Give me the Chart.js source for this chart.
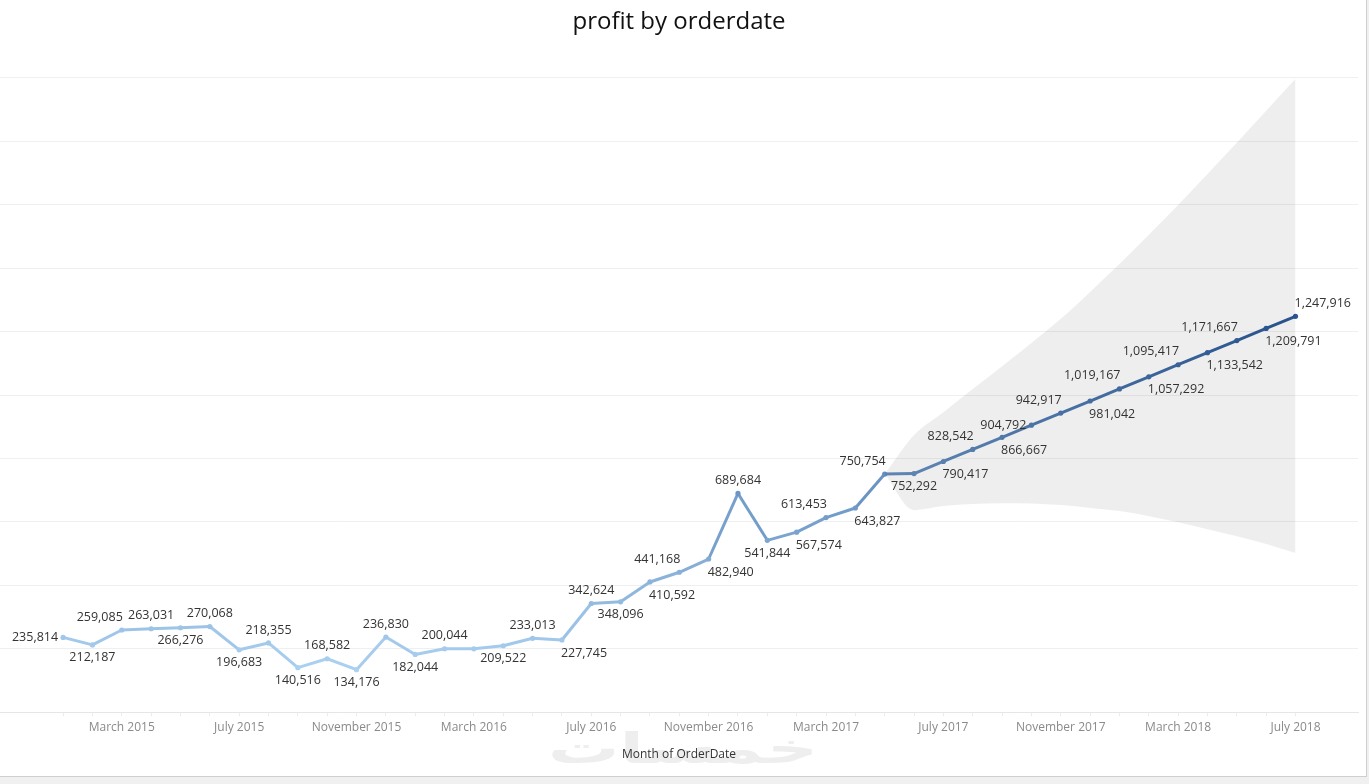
<!DOCTYPE html>
<html>
<head>
<meta charset="utf-8">
<title>profit by orderdate</title>
<script src="https://cdn.jsdelivr.net/npm/chart.js@4.4.1/dist/chart.umd.min.js"></script>
<style>
  body { margin: 0; background: #f0f0f0; }
  #wrap {
    position: absolute; left: 0; top: 0;
    width: 1366px; height: 776px;
    background: #fff;
    border-right: 1px solid #cfcfcf;
    border-bottom: 1px solid #cfcfcf;
  }
</style>
</head>
<body>
<div id="wrap"><canvas id="graficoLucro"></canvas></div>
<script>
// meses (Jan 2015 .. Jul 2018)
const months = [
  'January 2015', 'February 2015', 'March 2015', 'April 2015', 'May 2015', 'June 2015',
  'July 2015', 'August 2015', 'September 2015', 'October 2015', 'November 2015', 'December 2015',
  'January 2016', 'February 2016', 'March 2016', 'April 2016', 'May 2016', 'June 2016',
  'July 2016', 'August 2016', 'September 2016', 'October 2016', 'November 2016', 'December 2016',
  'January 2017', 'February 2017', 'March 2017', 'April 2017', 'May 2017', 'June 2017',
  'July 2017', 'August 2017', 'September 2017', 'October 2017', 'November 2017', 'December 2017',
  'January 2018', 'February 2018', 'March 2018', 'April 2018', 'May 2018', 'June 2018',
  'July 2018'
];

// lucro real (Jan 2015 .. May 2017)
const actualProfit = [
  235814, 212187, 259085, 263031, 266276, 270068, 196683, 218355, 140516, 168582, 134176, 236830,
  182044, 200044, 199900, 209522, 233013, 227745, 342624, 348096, 410592, 441168, 482940, 689684,
  541844, 567574, 613453, 643827, 750754
];

// previsao (Jun 2017 .. Jul 2018)
const forecastProfit = [
  752292, 790417, 828542, 866667, 904792, 942917, 981042,
  1019167, 1057292, 1095417, 1133542, 1171667, 1209791, 1247916
];
const forecastUpper = [
  874000, 946000, 1019000, 1091000, 1164000, 1240000, 1325000,
  1413000, 1505000, 1599000, 1697000, 1795000, 1896000, 1997000
];
const forecastLower = [
  637000, 650000, 656000, 659000, 658000, 653000, 644000,
  634000, 618000, 599000, 577000, 555000, 530000, 502000
];

// where each value label sits: a=above, b=below, l=left, al/br/ar = shifted
const labelSide = [
  'l', 'b', 'al', 'a', 'b', 'a', 'b', 'a', 'b', 'a', 'b', 'a',
  'b', 'a', '', 'b', 'a', 'br', 'a', 'b', 'br', 'al', 'br', 'a',
  'b', 'br', 'al', 'br', 'al', 'b', 'br', 'al', 'br', 'l', 'al', 'br',
  'al', 'br', 'al', 'br', 'al', 'br', 'ar'
];

const yTicks = [0, 200000, 400000, 600000, 800000, 1000000, 1200000, 1400000, 1600000, 1800000, 2000000];

// ---- build series ----
const profit = actualProfit.concat(forecastProfit);
const lastActual = actualProfit.length - 1;
const serie = profit.map((v, i) => ({ x: i, y: v }));
const upper = [], lower = [];
upper.push({ x: lastActual, y: actualProfit[lastActual] });
lower.push({ x: lastActual, y: actualProfit[lastActual] });
forecastUpper.forEach((v, i) => upper.push({ x: lastActual + 1 + i, y: v }));
forecastLower.forEach((v, i) => lower.push({ x: lastActual + 1 + i, y: v }));

const vMin = Math.min(...profit), vMax = Math.max(...profit);
const cLow = [172, 210, 242], cHigh = [42, 88, 150];
function colorFor(v) {
  const t = Math.max(0, Math.min(1, (v - vMin) / (vMax - vMin)));
  const c = cLow.map((a, k) => Math.round(a + (cHigh[k] - a) * t));
  return 'rgb(' + c.join(',') + ')';
}

const fmt = new Intl.NumberFormat('en-US');

const valueLabels = {
  id: 'valueLabels',
  afterDatasetsDraw(chart) {
    const meta = chart.getDatasetMeta(2);
    const ctx = chart.ctx;
    ctx.save();
    ctx.font = '12.5px "Open Sans"';
    ctx.fillStyle = '#333';
    ctx.textBaseline = 'middle';
    meta.data.forEach((pt, i) => {
      const side = labelSide[i];
      if (!side) return;
      const txt = fmt.format(profit[i]);
      let x = pt.x, y = pt.y;
      ctx.textAlign = 'center';
      if (side[0] === 'a') y -= 13;
      if (side[0] === 'b') y += 13;
      if (side === 'al') { ctx.textAlign = 'right'; x += 1; }
      if (side === 'br' || side === 'ar') { ctx.textAlign = 'left'; x -= 1; }
      if (side === 'l') { ctx.textAlign = 'right'; x -= 5; }
      ctx.fillText(txt, x, y);
    });
    ctx.restore();
  }
};

// faint watermark behind the axis title
const watermark = {
  id: 'watermark',
  beforeDraw(chart) {
    const ctx = chart.ctx;
    ctx.save();
    ctx.translate(683, 752);
    ctx.scale(1.7, 1);
    ctx.font = 'bold 42px "DejaVu Sans"';
    ctx.fillStyle = '#eeeeee';
    ctx.textAlign = 'center';
    ctx.textBaseline = 'middle';
    ctx.fillText('خمسات', 0, 0);
    ctx.restore();
  }
};

new Chart(document.getElementById('graficoLucro'), {
  type: 'line',
  data: {
    datasets: [
      {
        label: 'upper',
        data: upper,
        borderWidth: 0,
        pointRadius: 0,
        cubicInterpolationMode: 'monotone',
        backgroundColor: 'rgba(0,0,0,0.065)',
        fill: '+1'
      },
      {
        label: 'lower',
        data: lower,
        borderWidth: 0,
        pointRadius: 0,
        cubicInterpolationMode: 'monotone',
        fill: false
      },
      {
        label: 'Profit',
        data: serie,
        borderWidth: 3,
        pointRadius: 2.6,
        pointHoverRadius: 3,
        pointBorderWidth: 0,
        pointBackgroundColor: ctx => colorFor(profit[ctx.dataIndex]),
        borderColor: colorFor(vMin),
        segment: {
          borderColor: ctx => colorFor((ctx.p0.parsed.y + ctx.p1.parsed.y) / 2)
        },
        fill: false
      }
    ]
  },
  options: {
    responsive: true,
    maintainAspectRatio: false,
    animation: false,
    layout: { autoPadding: false, padding: { left: 0, right: 8, top: 0, bottom: 10 } },
    plugins: {
      legend: { display: false },
      tooltip: { enabled: false },
      title: {
        display: true,
        text: 'profit by orderdate',
        color: '#111',
        font: { family: '"Open Sans"', size: 24, weight: 'normal' },
        padding: { top: 8, bottom: 41 }
      }
    },
    scales: {
      x: {
        type: 'linear',
        min: -2.15,
        max: 44.13,
        afterBuildTicks: axis => {
          axis.ticks = months.map((m, i) => ({ value: i }));
        },
        ticks: {
          autoSkip: false,
          maxRotation: 0,
          color: '#8a8a8a',
          font: { family: '"Open Sans"', size: 12 },
          padding: 4,
          callback: v => (v % 4 === 2 ? months[v] : '')
        },
        grid: { drawOnChartArea: false, color: '#ececec', tickLength: 4 },
        border: { color: '#e6e6e6' },
        title: {
          display: true,
          text: 'Month of OrderDate',
          color: '#333',
          font: { family: '"Open Sans"', size: 12 },
          padding: { top: 9, bottom: 4 }
        }
      },
      y: {
        min: 0,
        max: 2000000,
        afterBuildTicks: axis => {
          axis.ticks = yTicks.map(v => ({ value: v }));
        },
        afterFit: axis => { axis.width = 0; },
        ticks: { display: false },
        grid: { color: '#efefef', drawTicks: false },
        border: { display: false }
      }
    }
  },
  plugins: [watermark, valueLabels]
});
</script>
</body>
</html>
